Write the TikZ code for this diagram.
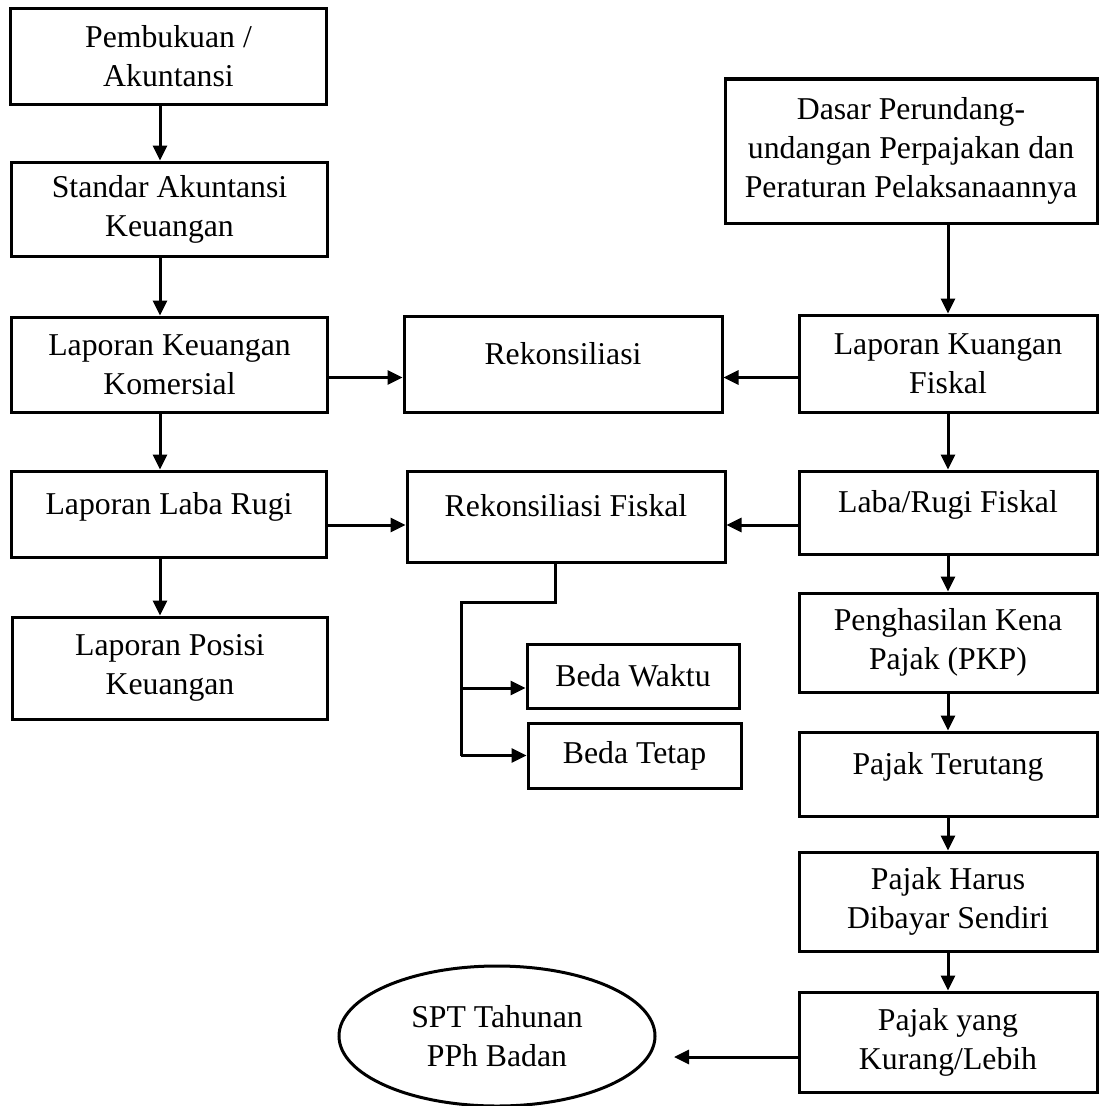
\documentclass[tikz,border=0pt]{standalone}
\usepackage{fontspec}
\setmainfont{Liberation Serif}
\usetikzlibrary{arrows.meta, shapes.geometric}

\begin{document}
\begin{tikzpicture}[
    x=0.4pt, y=-0.4pt,
    box/.style={draw, rectangle, align=center, minimum width=126pt, minimum height=38pt},
    rbox/.style={box, minimum width=119.2pt},
    upper/.style={text height=8pt, text depth=8pt},
    oval/.style={draw, ellipse, align=center, minimum width=126.4pt, minimum height=56pt},
    flow/.style={-{Triangle[length=6pt, width=5.6pt]}},
    every node/.style={font=\fontsize{12.7}{15.6}\selectfont},
    very thick
  ]
  \useasboundingbox (0,0) rectangle (1099,1106);

  % Left column
  \node[box] (pemb) at (168.5,56.5) {Pembukuan /\\Akuntansi};
  \node[box, minimum height=37.6pt] (std) at (169.5,209) {Standar Akuntansi\\Keuangan};
  \node[box] (lkk) at (169.5,364.5) {Laporan Keuangan\\Komersial};
  \node[box, upper, minimum width=125.6pt, minimum height=34.4pt] (llr) at (169,514) {Laporan Laba Rugi};
  \node[box, minimum width=125.6pt, minimum height=40.8pt] (lpk) at (170,668) {Laporan Posisi\\Keuangan};

  % Middle column
  \node[box, upper, minimum width=127.2pt, minimum height=38.4pt] (rek) at (563,364) {Rekonsiliasi};
  \node[box, upper, minimum width=127.2pt, minimum height=36.4pt] (rf) at (566,516.5) {Rekonsiliasi Fiskal};
  \node[box, minimum width=84.8pt, minimum height=25.6pt] (bw) at (633,676) {Beda Waktu};
  \node[box, minimum width=85.2pt, minimum height=26pt] (bt) at (634.5,755.5) {Beda Tetap};

  % Right column
  \node[box, minimum width=148.8pt, minimum height=57.6pt] (dasar) at (911,151)
    {Dasar Perundang-\\undangan Perpajakan dan\\Peraturan Pelaksanaannya};
  \node[rbox, minimum height=38.8pt] (lkf) at (948,363.5) {Laporan Kuangan\\Fiskal};
  \node[rbox, upper, minimum height=33.2pt] (lrf) at (948,512.5) {Laba/Rugi Fiskal};
  \node[rbox, minimum height=39.6pt] (pkp) at (948,642.5) {Penghasilan Kena\\Pajak (PKP)};
  \node[rbox, upper, minimum height=33.6pt] (pt) at (948,774) {Pajak Terutang};
  \node[rbox, minimum height=39.6pt] (ph) at (948,901.5) {Pajak Harus\\Dibayar Sendiri};
  \node[rbox, minimum height=40pt] (py) at (948,1042) {Pajak yang\\Kurang/Lebih};

  \node[oval] (spt) at (497,1036) {SPT Tahunan\\PPh Badan};

  % helper lines for the connectors
  \coordinate (lcol) at (160,0);
  \coordinate (row1) at (0,377.5);
  \coordinate (row2) at (0,525);
  \coordinate (row3) at (0,1057);
  \coordinate (split) at (555,602);
  \coordinate (trunk) at (461,602);
  \coordinate (tw) at (461,688);

  % Down the left column
  \draw[flow] (pemb.south -| lcol) -- (std.north -| lcol);
  \draw[flow] (std.south -| lcol) -- (lkk.north -| lcol);
  \draw[flow] (lkk.south -| lcol) -- (llr.north -| lcol);
  \draw[flow] (llr.south -| lcol) -- (lpk.north -| lcol);

  % Into the reconciliations
  \draw[flow] (lkk.east |- row1) -- (rek.west |- row1);
  \draw[flow] (lkf.west |- row1) -- (rek.east |- row1);
  \draw[flow] (llr.east |- row2) -- (rf.west |- row2);
  \draw[flow] (lrf.west |- row2) -- (rf.east |- row2);

  % Split into the two differences
  \draw (rf.south -| split) -- (split) -- (trunk) -- (trunk |- bt.west);
  \draw[flow] (tw) -- (bw.west |- tw);
  \draw[flow] (trunk |- bt.west) -- (bt.west);

  % Down the right column
  \draw[flow] (dasar.south -| lkf.north) -- (lkf.north);
  \draw[flow] (lkf) -- (lrf);
  \draw[flow] (lrf) -- (pkp);
  \draw[flow] (pkp) -- (pt);
  \draw[flow] (pt) -- (ph);
  \draw[flow] (ph) -- (py);
  \draw[flow, shorten >=7pt] (py.west |- row3) -- (spt.east |- row3);
\end{tikzpicture}
\end{document}
